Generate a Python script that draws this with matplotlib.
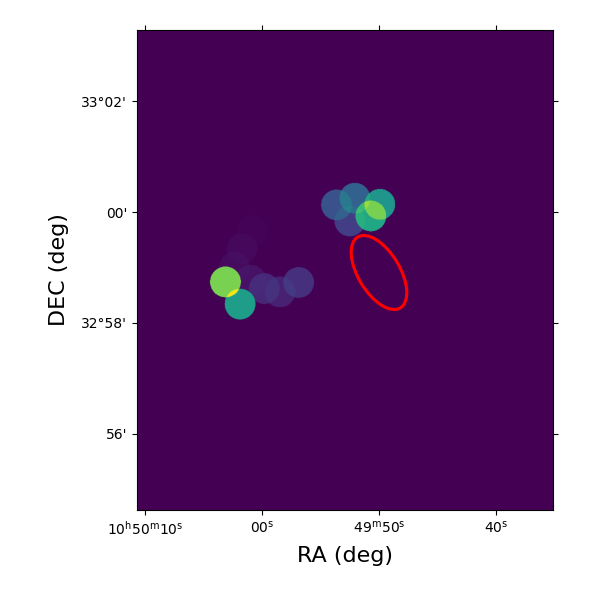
import numpy as np
import matplotlib
matplotlib.use('Agg')
import matplotlib.pyplot as plt
from matplotlib.colors import PowerNorm
from matplotlib.patches import Ellipse

# source positions: RA seconds from 10h50m00s, DEC arcmin from 33d00m
ra_sec = [3.13, 1.88, -3.13, -1.53, -0.19, 0.97, 2.36, 1.71, 0.82, -6.37, -7.94, -10.08, -9.31, -7.51]
dec_min = [-1.26, -1.66, -1.27, -1.44, -1.38, -1.23, -1.00, -0.66, -0.33, 0.13, 0.25, 0.14, -0.07, -0.16]
level = [0.80, 0.56, 0.14, 0.09, 0.11, 0.05, 0.03, 0.02, 0.008, 0.25, 0.31, 0.52, 0.60, 0.18]
radius_min = 0.277

# red region
region_ra = -10.0
region_dec = -1.09
region_major = 1.49
region_minor = 0.75
region_angle = 59

x_ticks = [10, 0, -10, -20]
x_labels = ['10$^{\\mathrm{h}}$50$^{\\mathrm{m}}$10$^{\\mathrm{s}}$', '00$^{\\mathrm{s}}$',
            '$^{\\mathrm{}}$49$^{\\mathrm{m}}$50$^{\\mathrm{s}}$', '40$^{\\mathrm{s}}$']
y_ticks = [2, 0, -2, -4]
y_labels = ["33°02'", "00'", "32°58'", "56'"]

# seconds of RA to arcmin on the sky
SEC_TO_MIN = 11.7 / 55.5

xlim = (10.68 * SEC_TO_MIN, -24.87 * SEC_TO_MIN)
ylim = (-5.37, 3.28)

# fill the image with the discs, fluxes add up
xs = np.linspace(xlim[0], xlim[1], 832)
ys = np.linspace(ylim[0], ylim[1], 960)
xx, yy = np.meshgrid(xs, ys)
image = np.zeros_like(xx)
for ra, dec, lev in zip(ra_sec, dec_min, level):
    inside = (xx - ra * SEC_TO_MIN) ** 2 + (yy - dec) ** 2 <= radius_min ** 2
    image[inside] += lev ** 2

fig = plt.figure(figsize=(6, 6), dpi=100)
ax = fig.add_axes([137 / 600, 90 / 600, 416 / 600, 480 / 600])
ax.imshow(image, origin='lower', extent=(xlim[0], xlim[1], ylim[0], ylim[1]), aspect='auto',
          cmap='viridis', norm=PowerNorm(gamma=0.5, vmin=0, vmax=1), interpolation='antialiased')

ax.add_patch(Ellipse((region_ra * SEC_TO_MIN, region_dec), region_major, region_minor, angle=region_angle,
                     fill=False, edgecolor='red', linewidth=2.2))

ax.set_xlim(xlim)
ax.set_ylim(ylim)
ax.set_xticks([t * SEC_TO_MIN for t in x_ticks])
ax.set_xticklabels(x_labels)
ax.set_yticks(y_ticks)
ax.set_yticklabels(y_labels)
ax.tick_params(top=True, right=True, direction='out', labelsize=10)
ax.set_xlabel('RA (deg)', fontsize=16, labelpad=6)
ax.set_ylabel('DEC (deg)', fontsize=16, labelpad=9)

plt.savefig('out.png', dpi=100)
